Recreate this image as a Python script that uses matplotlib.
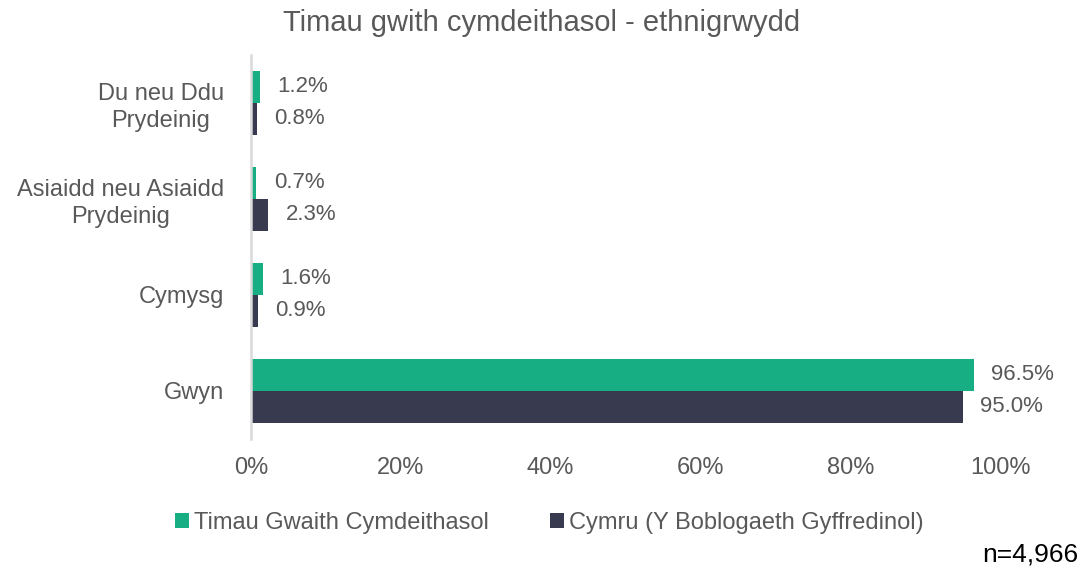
import matplotlib
matplotlib.use("Agg")
import matplotlib.pyplot as plt
import numpy as np

categories = ["Du neu Ddu\nPrydeinig", "Asiaidd neu Asiaidd\nPrydeinig", "Cymysg", "Gwyn"]
series_names = ["Timau Gwaith Cymdeithasol", "Cymru (Y Boblogaeth Gyffredinol)"]
teams = [1.2, 0.7, 1.6, 96.5]
wales = [0.8, 2.3, 0.9, 95.0]
xticks = [0, 20, 40, 60, 80, 100]
xtick_labels = ["0%", "20%", "40%", "60%", "80%", "100%"]

GREEN = "#17AE84"
DARK = "#383B4F"
TXT = "#595959"

plt.rcParams['font.family'] = ['Liberation Sans', 'DejaVu Sans']

fig = plt.figure(figsize=(10.83, 5.69), dpi=100)
ax = fig.add_axes([0.2318, 0.2285, 0.6916, 0.675])

y = np.arange(len(categories))
h = 0.333
b1 = ax.barh(y - h / 2, teams, height=h, color=GREEN, label=series_names[0])
b2 = ax.barh(y + h / 2, wales, height=h, color=DARK, label=series_names[1])

for bars, vals in ((b1, teams), (b2, wales)):
    for rect, v in zip(bars, vals):
        ax.annotate(f"{v:.1f}%", (rect.get_width(), rect.get_y() + rect.get_height() / 2),
                    xytext=(12.5, 0), textcoords="offset points", va="center", ha="left",
                    fontsize=16, color=TXT)

ax.set_ylim(3.5, -0.5)
ax.set_xlim(0, 100)
ax.set_yticks(y)
ax.set_yticklabels(categories, fontsize=17, color=TXT, linespacing=1.25)
for lbl in ax.get_yticklabels():
    lbl.set_horizontalalignment("right")
    lbl.set_multialignment("center")
ax.set_xticks(xticks)
ax.set_xticklabels(xtick_labels, fontsize=17, color=TXT)
ax.tick_params(axis='both', length=0)
ax.tick_params(axis='x', pad=13)
ax.tick_params(axis='y', pad=19.5)

for s in ["top", "right", "bottom"]:
    ax.spines[s].set_visible(False)
ax.spines["left"].set_color("#D9D9D9")
ax.spines["left"].set_linewidth(1.8)

fig.text(0.5, 0.96, "Timau gwith cymdeithasol - ethnigrwydd", ha="center", va="center",
         fontsize=21, color=TXT)

leg = fig.legend(handles=[b1, b2], loc="center", bbox_to_anchor=(0.507, 0.081), ncol=2,
                 frameon=False, fontsize=17, handlelength=0.6, handleheight=0.6,
                 handletextpad=0.2, columnspacing=2.6)
for t in leg.get_texts():
    t.set_color(TXT)

fig.text(0.996, 0.025, "n=4,966", ha="right", va="center", fontsize=19, color="#000000")

fig.savefig("out.png", dpi=100)
